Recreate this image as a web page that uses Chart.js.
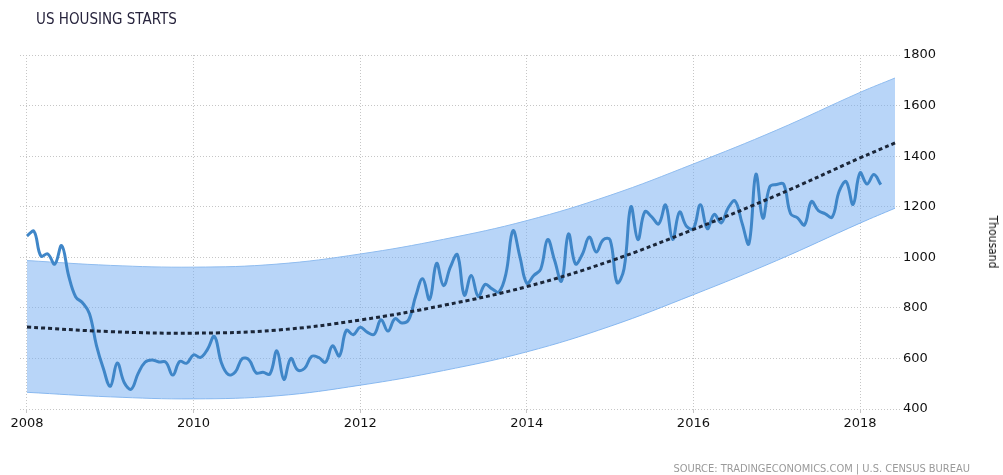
<!DOCTYPE html>
<html>
<head>
<meta charset="utf-8">
<script src="https://cdn.jsdelivr.net/npm/chart.js@4.4.0/dist/chart.umd.min.js"></script>
<style>
    html, body { margin: 0; padding: 0; background: #fff; }
    #wrap { position: relative; width: 1003px; height: 475px; overflow: hidden; }
    #chart { position: absolute; left: 0; top: 0; }
    .title { position: absolute; left: 36px; top: 12px; font: 15px/1 "DejaVu Sans Condensed", "DejaVu Sans", sans-serif; color: #27243d; white-space: nowrap; }
    .unit { position: absolute; left: 993px; top: 242px; font: 12px/1 "DejaVu Sans Condensed", "DejaVu Sans", sans-serif; color: #111; white-space: nowrap; transform: translate(-50%, -50%) rotate(90deg); }
    .source { position: absolute; right: 33px; top: 463px; font: 11px/1 "DejaVu Sans Condensed", "DejaVu Sans", sans-serif; color: #9a9a9a; white-space: nowrap; }
</style>
</head>
<body>
<div id="wrap">
    <canvas id="chart" width="1003" height="475"></canvas>
    <div class="title">US HOUSING STARTS</div>
    <div class="unit">Thousand</div>
    <div class="source">SOURCE: TRADINGECONOMICS.COM | U.S. CENSUS BUREAU</div>
</div>
<script>
// monthly housing starts, thousands (Jan 2008 - Apr 2018)
const startYear = 2008;
const starts = [
    1084, 1103, 1005, 1013, 973, 1046, 927, 844, 820, 777, 652, 560,   // 2008
    490, 582, 505, 478, 540, 585, 594, 586, 585, 534, 588, 581,        // 2009
    614, 604, 636, 687, 583, 536, 546, 599, 594, 543, 545, 539,        // 2010
    630, 517, 600, 554, 561, 608, 604, 585, 650, 610, 711, 694,        // 2011
    723, 704, 695, 753, 708, 757, 740, 754, 847, 915, 833, 976,        // 2012
    888, 962, 1010, 850, 928, 845, 893, 875, 863, 936, 1105, 1003,     // 2013
    897, 928, 953, 1070, 988, 906, 1092, 974, 1012, 1080, 1021, 1069,  // 2014
    1069, 900, 954, 1200, 1070, 1180, 1160, 1132, 1207, 1071, 1179, 1123, // 2015
    1114, 1208, 1113, 1170, 1136, 1195, 1223, 1136, 1054, 1328, 1155, 1279, // 2016
    1288, 1289, 1172, 1156, 1128, 1220, 1185, 1172, 1159, 1261, 1299, 1209, // 2017
    1334, 1290, 1327, 1287                                              // 2018
];

// trend and its band, read at yearly points
const trendYears = [2008, 2009, 2010, 2011, 2012, 2013, 2014, 2015, 2016, 2017, 2018, 2018.42];
const trend = [724, 706, 700, 712, 752, 810, 884, 985, 1110, 1245, 1393, 1452];
const bandUpper = [987, 968, 961, 973, 1013, 1071, 1145, 1245, 1369, 1503, 1652, 1709];
const bandLower = [466, 448, 440, 452, 494, 552, 626, 727, 852, 987, 1135, 1194];

const xTicks = [2008, 2010, 2012, 2014, 2016, 2018];
const yTicks = [400, 600, 800, 1000, 1200, 1400, 1600, 1800];

const gridColor = '#c6c6c6';
const tickFont = { family: 'DejaVu Sans', size: 13 };

function toPoints(xs, ys) {
    return ys.map((y, i) => ({ x: xs[i], y: y }));
}

const startsPoints = starts.map((v, i) => ({ x: startYear + i / 12, y: v }));

new Chart(document.getElementById('chart'), {
    type: 'line',
    data: {
        datasets: [{
            label: 'Trend',
            data: toPoints(trendYears, trend),
            borderColor: '#1b2638',
            borderWidth: 3,
            borderDash: [4, 3],
            pointRadius: 0,
            tension: 0.4,
            fill: false,
            order: 0
        }, {
            label: 'Housing Starts',
            data: startsPoints,
            borderColor: '#3f86c8',
            borderWidth: 3,
            pointRadius: 0,
            tension: 0.4,
            fill: false,
            order: 1
        }, {
            label: 'Upper',
            data: toPoints(trendYears, bandUpper),
            borderColor: '#8fbcef',
            borderWidth: 1,
            backgroundColor: 'rgba(113, 171, 241, 0.5)',
            pointRadius: 0,
            tension: 0.4,
            fill: '+1',
            order: 2
        }, {
            label: 'Lower',
            data: toPoints(trendYears, bandLower),
            borderColor: '#8fbcef',
            borderWidth: 1,
            pointRadius: 0,
            tension: 0.4,
            fill: false,
            order: 3
        }]
    },
    options: {
        responsive: false,
        animation: false,
        devicePixelRatio: 1,
        layout: { padding: { left: 20, right: 0, top: 55, bottom: 36 } },
        plugins: {
            legend: { display: false },
            tooltip: { enabled: false }
        },
        scales: {
            x: {
                type: 'linear',
                min: 2007.916,
                max: 2018.48,
                afterBuildTicks: scale => { scale.ticks = xTicks.map(v => ({ value: v })); },
                afterFit: scale => { scale.height = 30; },
                grid: { color: gridColor, lineWidth: 1, drawTicks: true, tickLength: 4 },
                border: { display: false, dash: [1, 2] },
                ticks: {
                    padding: 3,
                    color: '#111',
                    font: tickFont,
                    autoSkip: false,
                    maxRotation: 0,
                    callback: v => String(v)
                }
            },
            y: {
                position: 'right',
                min: 400,
                max: 1800,
                afterBuildTicks: scale => { scale.ticks = yTicks.map(v => ({ value: v })); },
                afterFit: scale => { scale.width = 103; },
                grid: { color: gridColor, lineWidth: 1, drawTicks: false },
                border: { display: false, dash: [1, 2] },
                ticks: {
                    padding: 3,
                    color: '#111',
                    font: tickFont,
                    callback: v => String(v)
                }
            }
        }
    }
});
</script>
</body>
</html>
